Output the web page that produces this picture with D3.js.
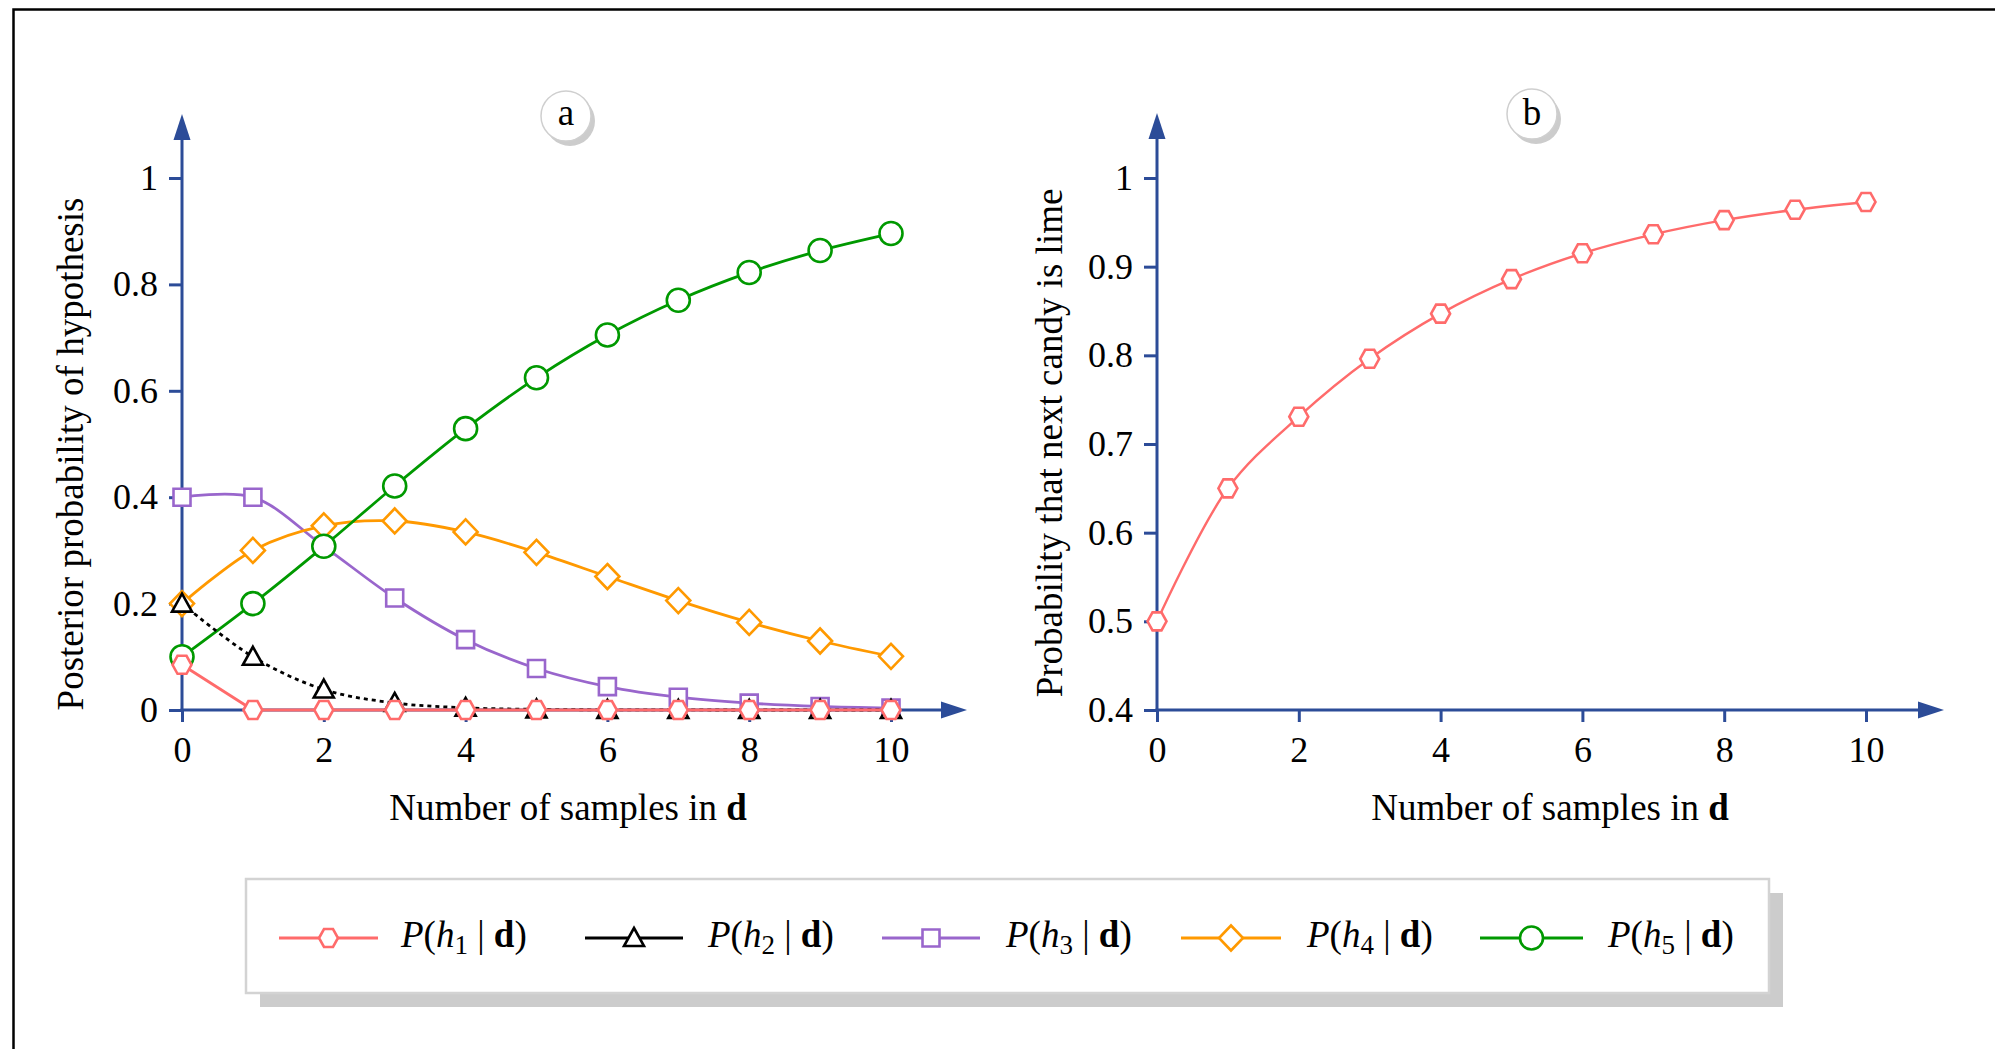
<!DOCTYPE html>
<html>
<head>
<meta charset="utf-8">
<script src="https://cdn.jsdelivr.net/npm/d3@7"></script>
<style>
  html, body { margin: 0; padding: 0; background: #fff; }
  svg { display: block; }
</style>
</head>
<body>
<svg id="chart" width="1995" height="1049"></svg>
<script>
// ---------- data ----------
const samples = [0, 1, 2, 3, 4, 5, 6, 7, 8, 9, 10];
const h1 = [0.085, 0, 0, 0, 0, 0, 0, 0, 0, 0, 0];
const h2 = [0.2, 0.1, 0.0385, 0.0132, 0.0041, 0.0012, 0.0003, 0.0001, 0, 0, 0];
const h3 = [0.4, 0.4, 0.3077, 0.2105, 0.1322, 0.078, 0.044, 0.0241, 0.0129, 0.0067, 0.0035];
const h4 = [0.2, 0.3, 0.3462, 0.3553, 0.3347, 0.2963, 0.2509, 0.2056, 0.1647, 0.1297, 0.1009];
const h5 = [0.1, 0.2, 0.3077, 0.4211, 0.5289, 0.6244, 0.7048, 0.7702, 0.8225, 0.8636, 0.8956];
const pLime = [0.5, 0.65, 0.7308, 0.7961, 0.847, 0.8859, 0.9151, 0.9365, 0.9525, 0.9642, 0.973];

const xTicks = [0, 2, 4, 6, 8, 10];
const leftYTicks = [0, 0.2, 0.4, 0.6, 0.8, 1];
const rightYTicks = [0.4, 0.5, 0.6, 0.7, 0.8, 0.9, 1];

const seriesNames = ["h1", "h2", "h3", "h4", "h5"];
const subscripts = ["1", "2", "3", "4", "5"];

// ---------- styles ----------
const FONT = "'Liberation Serif', 'Times New Roman', Times, serif";
const AXIS = "#2c4c98";
const styles = {
  h1: { color: "#ff6b6b", shape: "hex", dash: null, curve: d3.curveLinear },
  h2: { color: "#000000", shape: "tri", dash: "4,4", curve: d3.curveCatmullRom.alpha(0.5) },
  h3: { color: "#9966cc", shape: "square", dash: null, curve: d3.curveCatmullRom.alpha(0.5) },
  h4: { color: "#ff9900", shape: "diamond", dash: null, curve: d3.curveCatmullRom.alpha(0.5) },
  h5: { color: "#009900", shape: "circle", dash: null, curve: d3.curveCatmullRom.alpha(0.5) }
};
const seriesData = { h1, h2, h3, h4, h5 };

const svg = d3.select("#chart");
svg.append("rect").attr("width", 1995).attr("height", 1049).attr("fill", "#fff");
// outer frame
svg.append("rect").attr("x", 13.5).attr("y", 9.5).attr("width", 2100).attr("height", 1100)
  .attr("fill", "none").attr("stroke", "#000").attr("stroke-width", 2.5);

// ---------- symbol paths ----------
function shapePath(shape) {
  switch (shape) {
    case "hex": return "M-9.5,0L-4.5,-9L4.5,-9L9.5,0L4.5,9L-4.5,9Z";
    case "tri": return "M0,-10L10,8L-10,8Z";
    case "square": return "M-8.5,-8.5H8.5V8.5H-8.5Z";
    case "diamond": return "M0,-12.5L12,0L0,12.5L-12,0Z";
    case "circle": return "M11.5,0A11.5,11.5 0 1 1 -11.5,0A11.5,11.5 0 1 1 11.5,0Z";
  }
}

// ---------- scales ----------
const xL = d3.scaleLinear().domain([0, 10]).range([182, 891]);
const yL = d3.scaleLinear().domain([0, 1]).range([710, 178]);
const xR = d3.scaleLinear().domain([0, 10]).range([1157, 1866]);
const yR = d3.scaleLinear().domain([0.4, 1]).range([710, 178]);

const fmt = d => d3.format("~g")(d);

function drawAxes(x, y, yTicks, xEnd, yTop) {
  const g = svg.append("g");
  const y0 = y.range()[0];
  const x0 = x.range()[0];
  const xa = g.append("g").attr("transform", `translate(0,${y0})`)
    .call(d3.axisBottom(x).tickValues(xTicks).tickSize(12).tickPadding(14).tickSizeOuter(0).tickFormat(fmt));
  const ya = g.append("g").attr("transform", `translate(${x0},0)`)
    .call(d3.axisLeft(y).tickValues(yTicks).tickSize(13).tickPadding(11).tickSizeOuter(0).tickFormat(fmt));
  [xa, ya].forEach(a => {
    a.select(".domain").remove();
    a.attr("font-family", FONT).attr("font-size", 36);
    a.selectAll(".tick line").attr("stroke", AXIS).attr("stroke-width", 3);
    a.selectAll(".tick text").attr("fill", "#000");
  });
  const L = 26, W = 8.5;
  g.append("line").attr("x1", x0 - 1.5).attr("x2", xEnd - L + 2).attr("y1", y0).attr("y2", y0)
    .attr("stroke", AXIS).attr("stroke-width", 3);
  g.append("path").attr("d", `M${xEnd},${y0}L${xEnd - L},${y0 - W}L${xEnd - L},${y0 + W}Z`).attr("fill", AXIS);
  g.append("line").attr("x1", x0).attr("x2", x0).attr("y1", y0 + 1.5).attr("y2", yTop + L - 2)
    .attr("stroke", AXIS).attr("stroke-width", 3);
  g.append("path").attr("d", `M${x0},${yTop}L${x0 - W},${yTop + L}L${x0 + W},${yTop + L}Z`).attr("fill", AXIS);
}

drawAxes(xL, yL, leftYTicks, 967, 114);
drawAxes(xR, yR, rightYTicks, 1944, 113);

// axis titles
function xTitle(cx) {
  const t = svg.append("text").attr("x", cx).attr("y", 820).attr("text-anchor", "middle")
    .attr("font-family", FONT).attr("font-size", 37).attr("fill", "#000");
  t.append("tspan").text("Number of samples in ");
  t.append("tspan").attr("font-weight", "bold").text("d");
}
xTitle(568);
xTitle(1550);

svg.append("text").attr("transform", "translate(83,454) rotate(-90)").attr("text-anchor", "middle")
  .attr("font-family", FONT).attr("font-size", 37).attr("fill", "#000")
  .text("Posterior probability of hypothesis");
svg.append("text").attr("transform", "translate(1062,443) rotate(-90)").attr("text-anchor", "middle")
  .attr("font-family", FONT).attr("font-size", 37).attr("fill", "#000")
  .text("Probability that next candy is lime");

// panel labels
function panelLabel(cx, cy, txt, base) {
  const g = svg.append("g");
  g.append("circle").attr("cx", cx + 4).attr("cy", cy + 5).attr("r", 25).attr("fill", "#cccccc");
  g.append("circle").attr("cx", cx).attr("cy", cy).attr("r", 25).attr("fill", "#fff")
    .attr("stroke", "#cfcfcf").attr("stroke-width", 1.5);
  g.append("text").attr("x", cx).attr("y", base).attr("text-anchor", "middle")
    .attr("font-family", FONT).attr("font-size", 37).attr("fill", "#000").text(txt);
}
panelLabel(566, 116, "a", 125);
panelLabel(1532, 114, "b", 125);

// ---------- series ----------
const drawOrder = ["h3", "h4", "h5", "h2", "h1"];
function drawSeries(values, st, x, y, lw, curve) {
  const g = svg.append("g");
  const pts = samples.map((s, i) => [s, values[i]]);
  const line = d3.line().x(d => x(d[0])).y(d => y(d[1])).curve(curve);
  g.append("path").attr("d", line(pts)).attr("fill", "none").attr("stroke", st.color)
    .attr("stroke-width", lw).attr("stroke-dasharray", st.dash);
  g.selectAll("path.m").data(pts).enter().append("path").attr("class", "m")
    .attr("d", shapePath(st.shape))
    .attr("transform", d => `translate(${x(d[0])},${y(d[1])})`)
    .attr("fill", "#fff").attr("stroke", st.color).attr("stroke-width", 2.6);
}
drawOrder.forEach(k => drawSeries(seriesData[k], styles[k], xL, yL, 2.8, styles[k].curve));
drawSeries(pLime, styles.h1, xR, yR, 2.4, d3.curveCatmullRom.alpha(0.5));

// ---------- legend ----------
const lg = svg.append("g");
lg.append("rect").attr("x", 260).attr("y", 893).attr("width", 1523).attr("height", 114).attr("fill", "#cccccc");
lg.append("rect").attr("x", 246).attr("y", 879).attr("width", 1523).attr("height", 114).attr("fill", "#fff")
  .attr("stroke", "#d3d3d3").attr("stroke-width", 2.5);
const legLines = [[279, 378], [585, 683], [882, 980], [1181, 1281], [1480, 1583]];
const legText = [401, 708, 1006, 1307, 1608];
const ly = 938;
seriesNames.forEach((k, i) => {
  const st = styles[k];
  const [a, b] = legLines[i];
  lg.append("line").attr("x1", a).attr("x2", b).attr("y1", ly).attr("y2", ly)
    .attr("stroke", st.color).attr("stroke-width", 2.8);
  lg.append("path").attr("d", shapePath(st.shape)).attr("transform", `translate(${(a + b) / 2},${ly})`)
    .attr("fill", "#fff").attr("stroke", st.color).attr("stroke-width", 2.6);
  const t = lg.append("text").attr("x", legText[i]).attr("y", 947)
    .attr("font-family", FONT).attr("font-size", 37).attr("fill", "#000");
  t.append("tspan").attr("font-style", "italic").text("P");
  t.append("tspan").text("(");
  t.append("tspan").attr("font-style", "italic").text("h");
  t.append("tspan").attr("font-size", 27).attr("dy", 7).text(subscripts[i]);
  t.append("tspan").attr("dy", -7).text(" | ");
  t.append("tspan").attr("font-weight", "bold").text("d");
  t.append("tspan").text(")");
});
</script>
</body>
</html>
